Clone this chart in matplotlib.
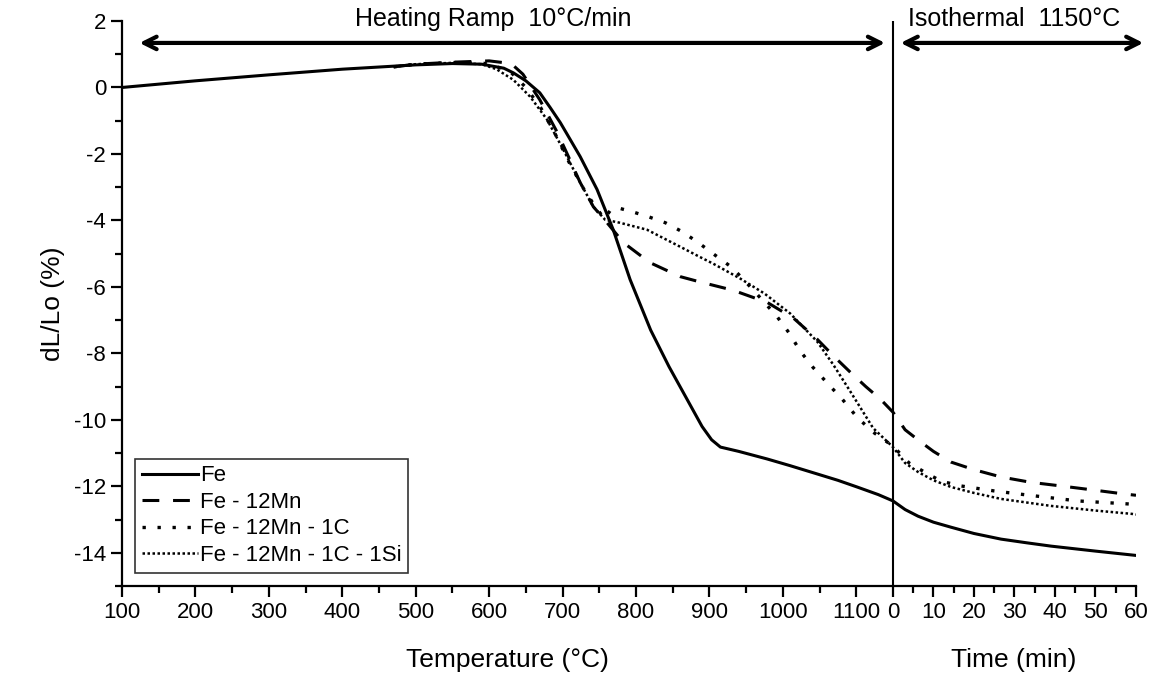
import matplotlib.pyplot as plt
import numpy as np

plt.rcParams['font.family'] = ['Liberation Sans', 'DejaVu Sans']
plt.rcParams['axes.unicode_minus'] = False

# heating ramp (temperature in degC) and isothermal hold (time in min)
T_END = 1150
T_SCALE = 331 / 60.0   # x units per minute on the shared axis

fe_T = [100, 200, 300, 400, 500, 550, 590, 620, 633, 650, 669, 683, 697, 710, 724, 747,
        769, 792, 820, 845, 860, 875, 890, 903, 915, 940, 979, 1010, 1047, 1075, 1101, 1130, 1150]
fe_Ty = [0.0, 0.2, 0.38, 0.55, 0.68, 0.72, 0.70, 0.58, 0.44, 0.2, -0.16, -0.6, -1.06, -1.55, -2.08, -3.07,
         -4.28, -5.78, -7.3, -8.4, -9.0, -9.6, -10.2, -10.6, -10.82, -10.95, -11.18, -11.38, -11.63, -11.82, -12.02, -12.25, -12.44]
fe_t = [0, 3, 6.2, 10, 14.3, 20, 26.7, 33, 39, 50, 60]
fe_ty = [-12.44, -12.7, -12.9, -13.08, -13.23, -13.42, -13.59, -13.7, -13.8, -13.95, -14.08]

mn_T = [470, 500, 550, 600, 630, 646, 669, 693, 708, 724, 742, 758, 783, 819, 860, 887,
        932, 979, 1015, 1047, 1070, 1092, 1113, 1133, 1150]
mn_Ty = [0.62, 0.7, 0.76, 0.8, 0.72, 0.4, -0.37, -1.36, -2.08, -2.86, -3.59, -4.0, -4.67, -5.27, -5.69, -5.85,
         -6.1, -6.47, -6.95, -7.58, -8.1, -8.57, -9.0, -9.38, -9.77]
mn_t = [0, 3, 6.9, 10, 14.3, 20, 26.7, 34, 41.5, 50, 57, 60]
mn_ty = [-9.77, -10.3, -10.67, -10.95, -11.27, -11.5, -11.72, -11.88, -11.99, -12.12, -12.23, -12.27]

c_T = [470, 500, 550, 600, 630, 650, 670, 690, 710, 730, 745, 757, 765, 775, 795, 817, 840, 863,
       885, 908, 931, 960, 992, 1008, 1024, 1041, 1062, 1081, 1101, 1123, 1150]
c_Ty = [0.62, 0.7, 0.75, 0.72, 0.45, 0.0, -0.6, -1.4, -2.3, -3.1, -3.6, -3.95, -3.7, -3.62, -3.74, -3.89, -4.07, -4.34,
        -4.67, -5.05, -5.42, -6.1, -6.89, -7.37, -7.94, -8.42, -8.93, -9.38, -9.92, -10.37, -10.79]
c_t = [0, 4, 8.6, 12, 16.8, 25, 33, 45.6, 58, 60]
c_ty = [-10.79, -11.3, -11.63, -11.85, -11.99, -12.14, -12.26, -12.44, -12.53, -12.55]

si_T = [470, 500, 550, 590, 610, 633, 656, 679, 701, 724, 742, 758, 778, 815, 860, 887,
        905, 942, 975, 1010, 1047, 1069, 1092, 1123, 1150]
si_Ty = [0.62, 0.7, 0.74, 0.7, 0.55, 0.23, -0.28, -0.97, -1.87, -2.86, -3.59, -3.98, -4.07, -4.28, -4.79, -5.1,
         -5.3, -5.75, -6.2, -6.8, -7.65, -8.35, -9.15, -10.25, -10.82]
si_t = [0, 3, 6.2, 10, 14.3, 20, 26.7, 39, 50, 59, 60]
si_ty = [-10.82, -11.3, -11.57, -11.82, -12.02, -12.2, -12.38, -12.59, -12.73, -12.83, -12.85]

labels = ['Fe', 'Fe - 12Mn', 'Fe - 12Mn - 1C', 'Fe - 12Mn - 1C - 1Si']


def to_x(T, t):
    return np.concatenate([np.array(T, float), T_END + np.array(t, float) * T_SCALE])


fig = plt.figure(figsize=(11.61, 6.79), dpi=100)
ax = fig.add_axes([122 / 1161, 1 - 586 / 679, (1136 - 122) / 1161, (586 - 21) / 679])

ax.plot(to_x(fe_T, fe_t), fe_Ty + fe_ty, color='black', lw=2.2, ls='-', label=labels[0])
ax.plot(to_x(mn_T, mn_t), mn_Ty + mn_ty, color='black', lw=2.2, ls=(0, (5.5, 4.5)), label=labels[1])
ax.plot(to_x(c_T, c_t), c_Ty + c_ty, color='black', lw=2.4, ls=(0, (1, 3.5)), label=labels[2])
ax.plot(to_x(si_T, si_t), si_Ty + si_ty, color='black', lw=1.8, ls=(0, (1, 1)), label=labels[3])

ax.set_xlim(100, T_END + 60 * T_SCALE)
ax.set_ylim(-15, 2)

# separator between ramp and isothermal hold
ax.axvline(T_END, color='black', lw=1.5)

temp_ticks = list(range(100, 1101, 100))
time_ticks = list(range(0, 61, 10))
ax.set_xticks(temp_ticks + [T_END + t * T_SCALE for t in time_ticks])
ax.set_xticklabels([str(v) for v in temp_ticks] + [str(v) for v in time_ticks])
ax.set_xticks(list(range(150, 1101, 100)) + [T_END + t * T_SCALE for t in range(5, 60, 10)], minor=True)
ax.set_yticks(range(-14, 3, 2))
ax.set_yticks(range(-15, 2, 2), minor=True)

for s in ['top', 'right']:
    ax.spines[s].set_visible(False)
for s in ['left', 'bottom']:
    ax.spines[s].set_linewidth(1.6)
ax.tick_params(which='major', length=8, width=1.6, labelsize=16, direction='out')
ax.tick_params(which='minor', length=5, width=1.6, direction='out')

ax.set_ylabel('dL/Lo (%)', fontsize=19, labelpad=6)
fig.text((122 + 892) / 2 / 1161, 1 - 660 / 679, 'Temperature (°C)', fontsize=19, ha='center', va='center')
fig.text((892 + 1135) / 2 / 1161, 1 - 660 / 679, 'Time (min)', fontsize=19, ha='center', va='center')

# stage arrows and titles
arrow_kw = dict(arrowstyle='<->,head_length=0.9,head_width=0.45', color='black', lw=3)
ax.annotate('', xy=(120, 1.34), xytext=(1143, 1.34), arrowprops=arrow_kw, annotation_clip=False)
ax.annotate('', xy=(T_END + 1.2 * T_SCALE, 1.34), xytext=(T_END + 62.5 * T_SCALE, 1.34),
            arrowprops=arrow_kw, annotation_clip=False)
ax.text(605, 2.06, 'Heating Ramp  10°C/min', fontsize=18, ha='center', va='center', clip_on=False)
ax.text(T_END + 30 * T_SCALE, 2.06, 'Isothermal  1150°C', fontsize=18, ha='center', va='center', clip_on=False)

leg = ax.legend(loc='lower left', fontsize=16, frameon=True, fancybox=False, edgecolor='black',
                handlelength=2.5, handletextpad=0.1, labelspacing=0.25, borderpad=0.3,
                borderaxespad=0.6)
leg.get_frame().set_linewidth(1.2)

fig.savefig('out.png', dpi=100)
